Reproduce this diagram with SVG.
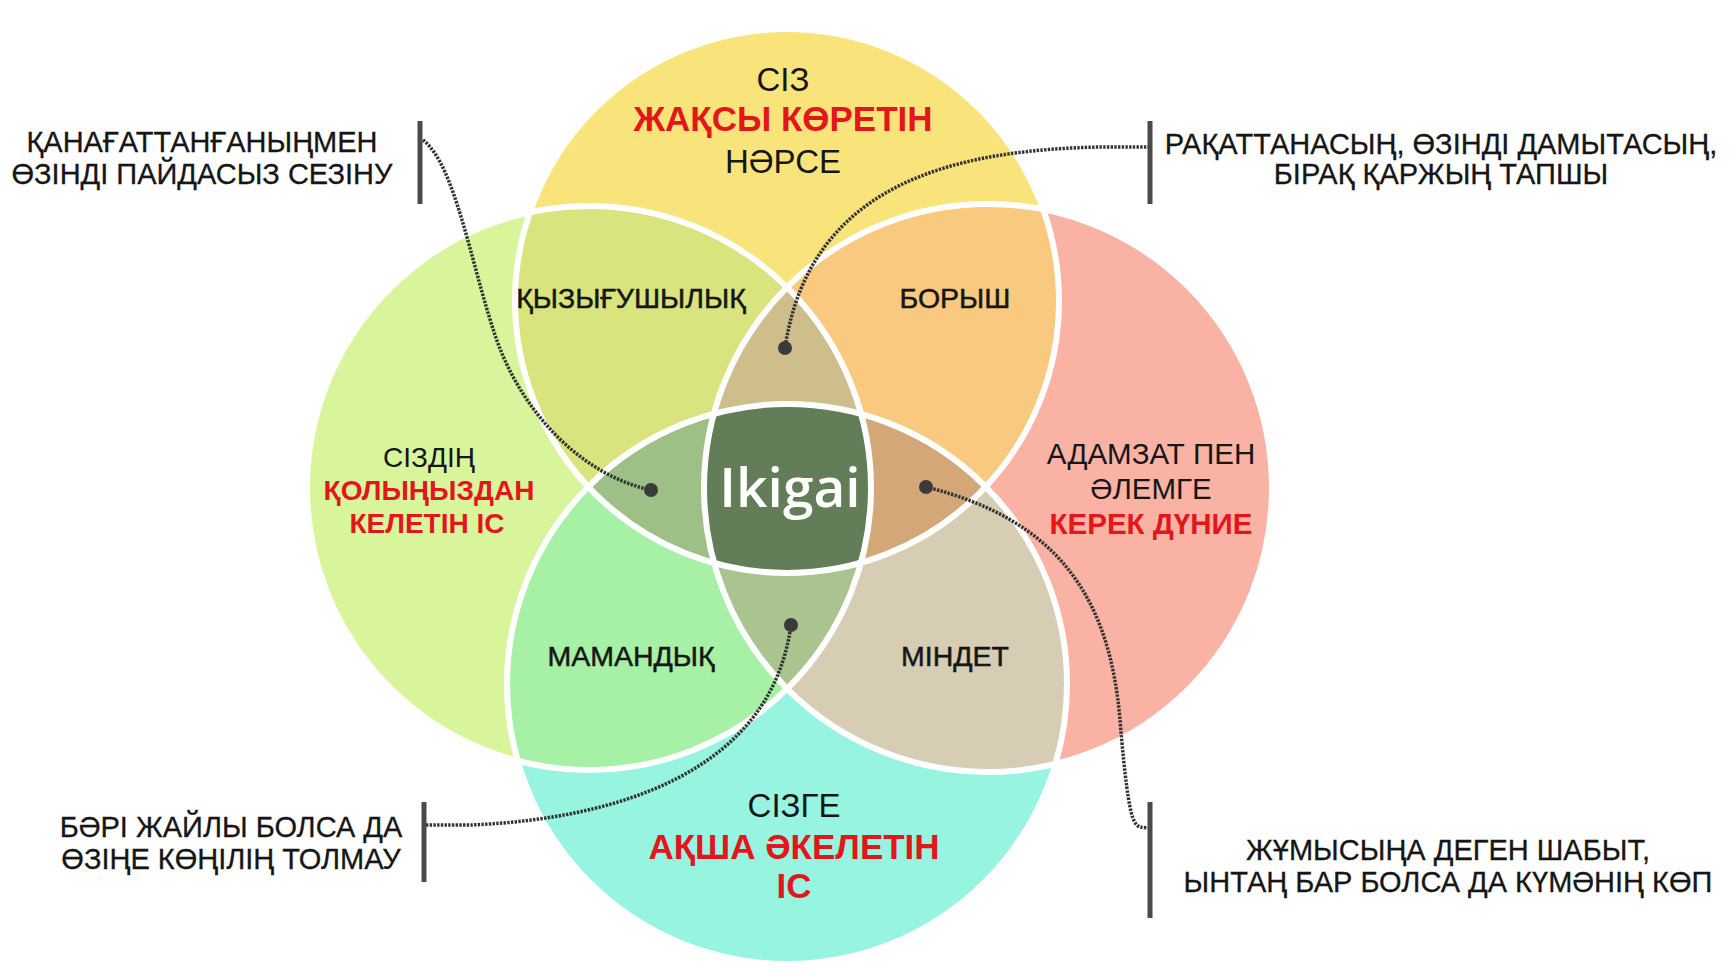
<svg xmlns="http://www.w3.org/2000/svg" width="1729" height="970" viewBox="0 0 1729 970">
<style>
.t{font-family:"Liberation Sans",Arial,sans-serif;fill:#161616;text-anchor:middle}
.r{fill:#E3161B;font-weight:bold}
.big{font-size:33px}
.bigr{font-size:35px}
.mid{font-size:28px}
.midr{font-size:29.5px}
.lab{font-size:28.5px;stroke:#161616;stroke-width:0.5}
.ann{font-size:29px;stroke:#161616;stroke-width:0.3}
.ik{font-family:"Open Sans","Noto Sans",sans-serif;font-size:55px;font-weight:600;fill:#fff;text-anchor:middle}
.dot{fill:#3a3a3a}
.con{fill:none;stroke:#333;stroke-width:3.5;stroke-dasharray:2.4 1.3}
.bar{stroke:#4a4a4a;stroke-width:5}
.edge{fill:none;stroke:#fff;stroke-width:6}
</style>
<defs>
<circle id="T" cx="787" cy="301" r="272"/>
<circle id="B" cx="787" cy="684" r="280"/>
<circle id="L" cx="589" cy="488" r="282"/>
<circle id="R" cx="988" cy="488" r="284"/>
<clipPath id="cT"><use href="#T"/></clipPath>
<clipPath id="cB"><use href="#B"/></clipPath>
<clipPath id="cL"><use href="#L"/></clipPath>
<clipPath id="cR"><use href="#R"/></clipPath>
</defs>
<rect width="1729" height="970" fill="#fff"/>

<g id="circle-top"><use href="#T" fill="#F9E47C"/></g>
<g id="circle-bottom"><use href="#B" fill="#96F4E0"/></g>
<g id="circle-left"><use href="#L" fill="#D9F59B"/></g>
<g id="circle-right"><use href="#R" fill="#F9B2A3"/></g>

<g id="overlaps">
<use href="#L" fill="#D9E47E" clip-path="url(#cT)"/>
<use href="#R" fill="#F8C97F" clip-path="url(#cT)"/>
<use href="#L" fill="#A6F1A6" clip-path="url(#cB)"/>
<use href="#R" fill="#D6CDB4" clip-path="url(#cB)"/>
<g clip-path="url(#cT)"><use href="#R" fill="#CDBE8C" clip-path="url(#cL)"/></g>
<g clip-path="url(#cB)"><use href="#R" fill="#A9C48E" clip-path="url(#cL)"/></g>
<g clip-path="url(#cT)"><use href="#L" fill="#9EC087" clip-path="url(#cB)"/></g>
<g clip-path="url(#cT)"><use href="#R" fill="#D3A777" clip-path="url(#cB)"/></g>
<g clip-path="url(#cT)"><g clip-path="url(#cB)"><use href="#L" fill="#637D58" clip-path="url(#cR)"/></g></g>
</g>

<g id="edges">
<use href="#T" class="edge"/>
<use href="#B" class="edge"/>
<use href="#L" class="edge"/>
<use href="#R" class="edge"/>
</g>

<g id="label-top">
<text class="t big" x="783" y="91">СІЗ</text>
<text class="t bigr r" x="783" y="131">ЖАҚСЫ КӨРЕТІН</text>
<text class="t big" x="783" y="173">НӘРСЕ</text>
</g>
<g id="label-left">
<text class="t mid" x="429" y="467">СІЗДІҢ</text>
<text class="t mid r" x="429" y="500">ҚОЛЫҢЫЗДАН</text>
<text class="t mid r" x="427" y="533">КЕЛЕТІН ІС</text>
</g>
<g id="label-right">
<text class="t midr" x="1151" y="464">АДАМЗАТ ПЕН</text>
<text class="t midr" x="1151" y="499">ӘЛЕМГЕ</text>
<text class="t midr r" x="1151" y="534">КЕРЕК ДҮНИЕ</text>
</g>
<g id="label-bottom">
<text class="t big" x="794" y="817">СІЗГЕ</text>
<text class="t bigr r" x="794" y="859">АҚША ӘКЕЛЕТІН</text>
<text class="t bigr r" x="794" y="898">ІС</text>
</g>
<g id="label-passion"><text class="t lab" x="631" y="308">ҚЫЗЫҒУШЫЛЫҚ</text></g>
<g id="label-mission"><text class="t lab" x="955" y="308">БОРЫШ</text></g>
<g id="label-profession"><text class="t lab" x="631" y="666">МАМАНДЫҚ</text></g>
<g id="label-vocation"><text class="t lab" x="955" y="666">МІНДЕТ</text></g>
<g id="label-ikigai"><text class="ik" x="790" y="507">Ikigai</text></g>

<g id="connectors">
<path class="con" d="M423 140 C455 165 470 260 495 335 C520 410 580 475 651 490"/>
<path class="con" d="M1150 147 L1100 147 C960 150 810 180 785 348"/>
<path class="con" d="M426 825 L470 825 C600 820 770 780 791 625"/>
<path class="con" d="M926 487 C1060 520 1110 600 1120 720 S1135 825 1148 828"/>
<circle class="dot" cx="651" cy="490" r="7"/>
<circle class="dot" cx="785" cy="348" r="7"/>
<circle class="dot" cx="791" cy="625" r="7"/>
<circle class="dot" cx="926" cy="487" r="7"/>
</g>

<g id="note-top-left">
<line class="bar" x1="420" y1="121" x2="420" y2="204"/>
<text class="t ann" x="202" y="152">ҚАНАҒАТТАНҒАНЫҢМЕН</text>
<text class="t ann" x="202" y="184">ӨЗІНДІ ПАЙДАСЫЗ СЕЗІНУ</text>
</g>
<g id="note-top-right">
<line class="bar" x1="1150" y1="121" x2="1150" y2="204"/>
<text class="t ann" x="1441" y="154">РАҚАТТАНАСЫҢ, ӨЗІНДІ ДАМЫТАСЫҢ,</text>
<text class="t ann" x="1441" y="184">БІРАҚ ҚАРЖЫҢ ТАПШЫ</text>
</g>
<g id="note-bottom-left">
<line class="bar" x1="424" y1="802" x2="424" y2="882"/>
<text class="t ann" x="231" y="837">БӘРІ ЖАЙЛЫ БОЛСА ДА</text>
<text class="t ann" x="231" y="869">ӨЗІҢЕ КӨҢІЛІҢ ТОЛМАУ</text>
</g>
<g id="note-bottom-right">
<line class="bar" x1="1150" y1="802" x2="1150" y2="918"/>
<text class="t ann" x="1448" y="860">ЖҰМЫСЫҢА ДЕГЕН ШАБЫТ,</text>
<text class="t ann" x="1448" y="892">ЫНТАҢ БАР БОЛСА ДА КҮМӘНІҢ КӨП</text>
</g>
</svg>
